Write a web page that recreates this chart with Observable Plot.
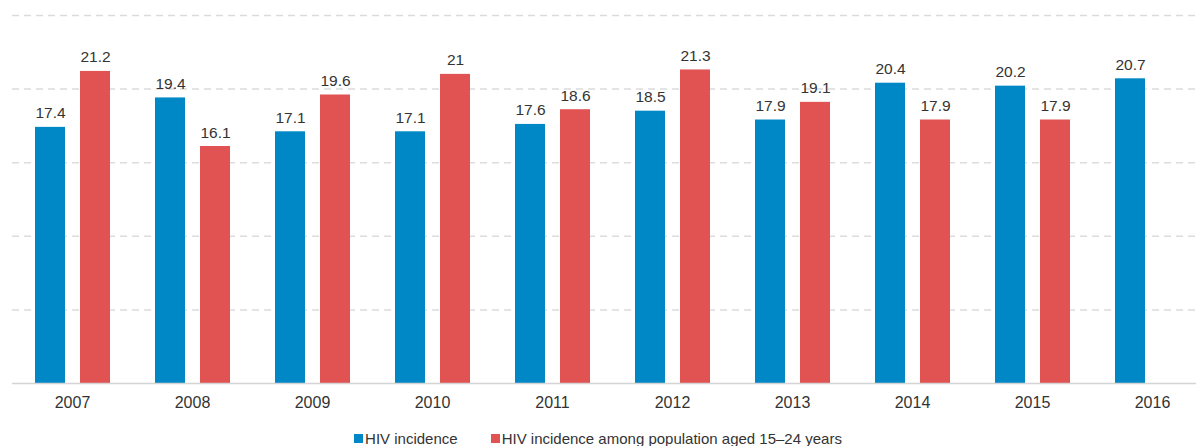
<!DOCTYPE html>
<html>
<head>
<meta charset="utf-8">
<script src="https://cdn.jsdelivr.net/npm/d3@7"></script>
<script src="https://cdn.jsdelivr.net/npm/@observablehq/plot@0.6"></script>
<style>
  html, body { margin: 0; padding: 0; background: #fff; }
  body { width: 1196px; height: 446px; overflow: hidden; font-family: "Liberation Sans", Arial, sans-serif; }
  #chart svg { display: block; }
  .legend { display: flex; justify-content: center; align-items: center; gap: 33px; font-size: 15px; color: #333; padding-top: 10px; line-height: 17px; }
  .legend span.item { display: flex; align-items: center; }
  .legend i { display: inline-block; width: 9px; height: 9px; margin-right: 2px; }
</style>
</head>
<body>
<div id="chart"></div>
<div class="legend" id="legend"></div>
<script>
// Yearly HIV incidence values, 2007–2016
const years = ["2007", "2008", "2009", "2010", "2011", "2012", "2013", "2014", "2015", "2016"];
const hivIncidence = [17.4, 19.4, 17.1, 17.1, 17.6, 18.5, 17.9, 20.4, 20.2, 20.7];
const youthIncidence = [21.2, 16.1, 19.6, 21, 18.6, 21.3, 19.1, 17.9, 17.9, null];
const seriesNames = ["HIV incidence", "HIV incidence among population aged 15\u201324 years"];
const gridValues = [5, 10, 15, 20, 25];

const colors = ["#0088c6", "#e15353"];

const total = years.map((year, i) => ({year, value: hivIncidence[i]}));
const youth = years.map((year, i) => ({year, value: youthIncidence[i]})).filter(d => d.value != null);

const labelStyle = {fontSize: 15.5, fill: "#333", textAnchor: "middle", lineAnchor: "bottom"};

const chart = Plot.plot({
  width: 1196,
  height: 420,
  marginTop: 15,
  marginBottom: 37,
  marginLeft: 12,
  marginRight: 0,
  style: {fontFamily: "Liberation Sans, Arial, sans-serif", background: "#fff"},
  x: {type: "band", domain: years, range: [12, 1212], padding: 0, axis: null, label: null},
  y: {domain: [0, 25], axis: null},
  marks: [
    Plot.ruleY(gridValues, {stroke: "#dcdcdc", strokeWidth: 1.5, strokeDasharray: "7,5"}),
    Plot.barY(total, {x: "year", y: "value", fill: colors[0], insetLeft: 23, insetRight: 67}),
    Plot.barY(youth, {x: "year", y: "value", fill: colors[1], insetLeft: 68, insetRight: 22}),
    Plot.text(total, {x: "year", y: "value", text: d => String(d.value), dx: -22, dy: -9, ...labelStyle}),
    Plot.text(youth, {x: "year", y: "value", text: d => String(d.value), dx: 23, dy: -9, ...labelStyle}),
    Plot.ruleY([0], {stroke: "#d4d4d4", strokeWidth: 1.5}),
    Plot.axisX({domain: years, tickSize: 0, tickPadding: 13, fontSize: 16, color: "#333", label: null})
  ]
});
document.getElementById("chart").appendChild(chart);

// Legend below the plot
const legend = document.getElementById("legend");
seriesNames.forEach((name, i) => {
  const item = document.createElement("span");
  item.className = "item";
  const swatch = document.createElement("i");
  swatch.style.background = colors[i];
  item.appendChild(swatch);
  item.appendChild(document.createTextNode(name));
  legend.appendChild(item);
});
</script>
</body>
</html>
